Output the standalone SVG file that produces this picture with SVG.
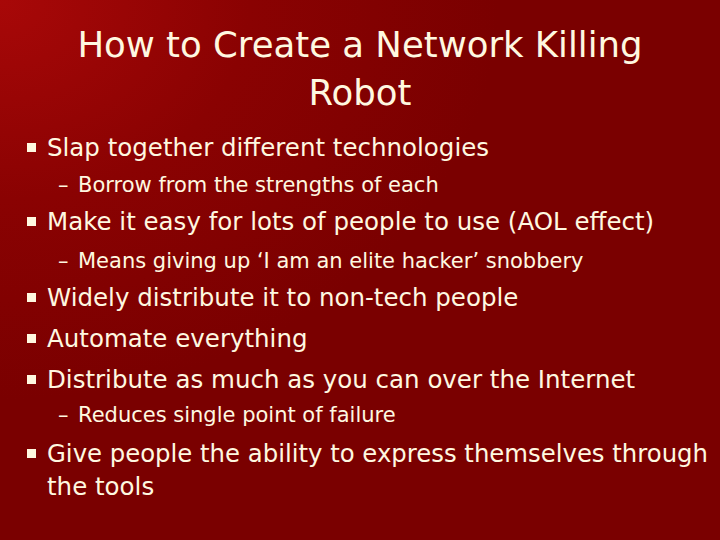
<svg xmlns="http://www.w3.org/2000/svg" width="720" height="540" viewBox="0 0 720 540">
<defs>
<radialGradient id="bg" cx="0" cy="0" r="1" gradientUnits="userSpaceOnUse" gradientTransform="translate(0,0) scale(500,400)">
<stop offset="0" stop-color="#a80808"/><stop offset="0.5" stop-color="#8a0202"/><stop offset="1" stop-color="#7a0000"/>
</radialGradient>
<style>
text{font-family:"DejaVu Sans",Verdana,sans-serif;fill:#fff8e0}
.t{font-size:35.5px;text-anchor:middle}
.b{font-size:24.5px}
.s{font-size:21px}
.sq{fill:#fff8e0}
</style>
</defs>
<rect width="720" height="540" fill="#7a0000"/>
<rect width="720" height="540" fill="url(#bg)"/>
<g id="title">
<text class="t" x="360" y="57">How to Create a Network Killing</text>
<text class="t" x="360" y="105">Robot</text>
</g>
<g id="bullets">
<rect class="sq" x="27" y="143" width="9" height="9"/>
<text class="b" x="47" y="156">Slap together different technologies</text>
<text class="s" x="58" y="192">–</text><text class="s" x="78" y="192">Borrow from the strengths of each</text>
<rect class="sq" x="27" y="217" width="9" height="9"/>
<text class="b" x="47" y="230">Make it easy for lots of people to use (AOL effect)</text>
<text class="s" x="58" y="268">–</text><text class="s" x="78" y="268">Means giving up ‘I am an elite hacker’ snobbery</text>
<rect class="sq" x="27" y="293" width="9" height="9"/>
<text class="b" x="47" y="306">Widely distribute it to non-tech people</text>
<rect class="sq" x="27" y="334" width="9" height="9"/>
<text class="b" x="47" y="347">Automate everything</text>
<rect class="sq" x="27" y="375" width="9" height="9"/>
<text class="b" x="47" y="388">Distribute as much as you can over the Internet</text>
<text class="s" x="58" y="422">–</text><text class="s" x="78" y="422">Reduces single point of failure</text>
<rect class="sq" x="27" y="449" width="9" height="9"/>
<text class="b" x="47" y="462" textLength="661" lengthAdjust="spacingAndGlyphs">Give people the ability to express themselves through</text>
<text class="b" x="47" y="495">the tools</text>
</g>
</svg>
